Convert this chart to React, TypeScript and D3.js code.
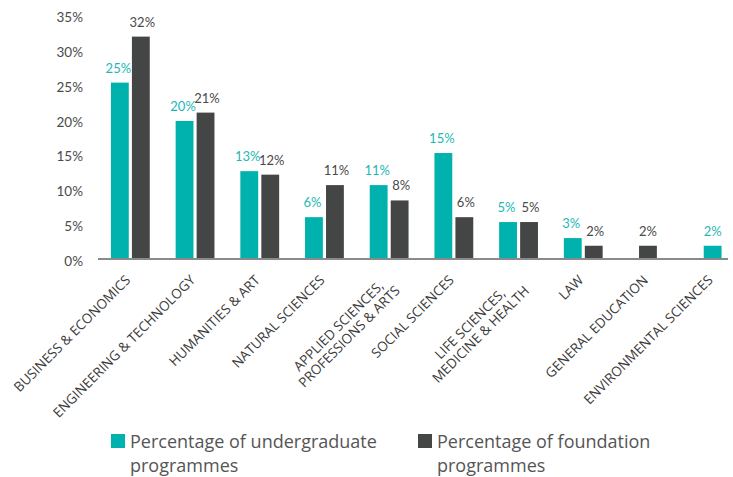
import * as d3 from 'd3'
import { useEffect, useRef } from 'react'

const categories: string[][] = [
    ['BUSINESS & ECONOMICS'],
    ['ENGINEERING & TECHNOLOGY'],
    ['HUMANITIES & ART'],
    ['NATURAL SCIENCES'],
    ['APPLIED SCIENCES,', 'PROFESSIONS & ARTS'],
    ['SOCIAL SCIENCES'],
    ['LIFE SCIENCES,', 'MEDICINE & HEALTH'],
    ['LAW'],
    ['GENERAL EDUCATION'],
    ['ENVIRONMENTAL SCIENCES'],
]
const undergraduate: (number | null)[] = [25.3, 19.8, 12.6, 6.0, 10.6, 15.2, 5.3, 3.0, null, 1.9]
const foundation: (number | null)[] = [31.9, 21.0, 12.1, 10.6, 8.4, 6.0, 5.3, 1.9, 1.9, null]
const yTicks = [0, 5, 10, 15, 20, 25, 30, 35]
const legendLabels = [
    ['Percentage of undergraduate', 'programmes'],
    ['Percentage of foundation', 'programmes'],
]

const TEAL = '#00b2ae'
const TEAL_TEXT = '#1db8b4'
const DARK = '#444646'
const GREY_TEXT = '#4a4a4a'

export default function App() {
    const svgRef = useRef<SVGSVGElement>(null)
    const width = 733
    const height = 477

    useEffect(() => {
        if (!svgRef.current) return
        const svg = d3.select(svgRef.current)
        svg.selectAll('*').remove()

        const y = d3.scaleLinear().domain([0, 35]).range([259, 15])
        const x0 = d3
            .scaleBand<number>()
            .domain(d3.range(categories.length))
            .range([98, 745])
            .paddingInner(0.4)
            .paddingOuter(0.2)
        const x1 = d3
            .scaleBand<string>()
            .domain(['u', 'f'])
            .range([0, x0.bandwidth()])
            .paddingInner(0.15)

        // y tick labels
        svg.append('g')
            .selectAll('text')
            .data(yTicks)
            .enter()
            .append('text')
            .attr('x', 83)
            .attr('y', (d) => y(d) + 7)
            .attr('text-anchor', 'end')
            .attr('fill', GREY_TEXT)
            .style('font-family', 'Lato, sans-serif')
            .style('font-size', '13.5px')
            .text((d) => `${d}%`)

        // bars + value labels
        const rows = categories.map((_, i) => {
            const items: { key: string; v: number; color: string; text: string }[] = []
            if (undergraduate[i] != null)
                items.push({ key: 'u', v: undergraduate[i] as number, color: TEAL, text: TEAL_TEXT })
            if (foundation[i] != null)
                items.push({ key: 'f', v: foundation[i] as number, color: DARK, text: GREY_TEXT })
            return { i, items }
        })

        const groups = svg
            .append('g')
            .selectAll('g')
            .data(rows)
            .enter()
            .append('g')
            .attr('transform', (d) => `translate(${x0(d.i)},0)`)

        const barX = (row: { items: unknown[] }, key: string) =>
            row.items.length === 1
                ? (x0.bandwidth() - x1.bandwidth()) / 2
                : (x1(key) as number)

        groups.each(function (row) {
            const g = d3.select(this)
            row.items.forEach((it) => {
                const bx = barX(row, it.key)
                const nudge = row.items.length === 1 ? 0 : it.key === 'u' ? -1.5 : 1.5
                g.append('rect')
                    .attr('x', bx)
                    .attr('y', y(it.v))
                    .attr('width', x1.bandwidth())
                    .attr('height', y(0) - y(it.v))
                    .attr('fill', it.color)
                g.append('text')
                    .attr('x', bx + x1.bandwidth() / 2 + nudge)
                    .attr('y', y(it.v) - 10)
                    .attr('text-anchor', 'middle')
                    .attr('fill', it.text)
                    .style('font-family', 'Lato, sans-serif')
                    .style('font-size', '13px')
                    .text(`${Math.round(it.v)}%`)
            })
        })

        // baseline
        svg.append('line')
            .attr('x1', 98)
            .attr('x2', 728)
            .attr('y1', y(0))
            .attr('y2', y(0))
            .attr('stroke', '#8a8a8a')
            .attr('stroke-width', 2)

        // category labels, rotated
        categories.forEach((lines, i) => {
            const cx = (x0(i) as number) + x0.bandwidth() / 2
            const t = svg
                .append('text')
                .attr('transform', `translate(${cx + 1},281) rotate(-45)`)
                .attr('text-anchor', 'end')
                .attr('fill', '#3a3a3a')
                .style('font-family', '"Open Sans", sans-serif')
                .style('font-size', '13.5px')
            const spans = lines.map((l, j) =>
                t.append('tspan').attr('x', 0).attr('y', j * 15).text(l)
            )
            const lens = spans.map((s) => (s.node() as SVGTSpanElement).getComputedTextLength())
            const maxLen = d3.max(lens) as number
            spans.forEach((s, j) => s.attr('x', -(maxLen - lens[j]) / 2))
        })

        // legend
        const legendX = [111, 418]
        legendLabels.forEach((lines, i) => {
            svg.append('rect')
                .attr('x', legendX[i])
                .attr('y', 434)
                .attr('width', 14)
                .attr('height', 14)
                .attr('fill', i === 0 ? TEAL : DARK)
            const t = svg
                .append('text')
                .attr('fill', '#555555')
                .style('font-family', '"Open Sans", sans-serif')
                .style('font-size', '18px')
            lines.forEach((l, j) =>
                t
                    .append('tspan')
                    .attr('x', legendX[i] + 19)
                    .attr('y', 448 + j * 24)
                    .text(l)
            )
        })
    }, [])

    return (
        <svg
            ref={svgRef}
            width={width}
            height={height}
            style={{ position: 'absolute', left: 0, top: 0, background: '#fff' }}
        />
    )
}
